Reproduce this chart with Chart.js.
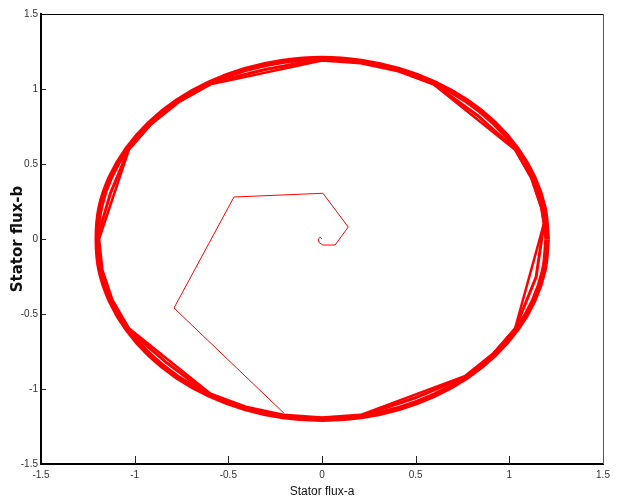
<!DOCTYPE html>
<html>
<head>
<meta charset="utf-8">
<script src="https://cdn.jsdelivr.net/npm/chart.js@4.4.1/dist/chart.umd.min.js"></script>
<style>
  html, body { margin: 0; padding: 0; background: #fff; }
  #wrap { width: 619px; height: 502px; }
</style>
</head>
<body>
<div id="wrap"><canvas id="fluxChart" width="619" height="502"></canvas></div>
<script>
    // tick labels
    const xTicks = [-1.5, -1, -0.5, 0, 0.5, 1, 1.5];
    const yTicks = [-1.5, -1, -0.5, 0, 0.5, 1, 1.5];

    // start-up transient
    const startX = [0.0, -0.01, -0.02, -0.015, 0.005, 0.07, 0.14, 0.005, -0.47, -0.79, -0.2];
    const startY = [0.0, 0.012, 0.0, -0.025, -0.04, -0.04, 0.08, 0.305, 0.28, -0.46, -1.165];

    // lap taking the straight chords (hexagon-ish sectors)
    const chordX = [-0.207, 0.0, 0.207, 0.765, 0.912, 1.031, 1.185, 1.172, 1.118, 1.031, 0.595, 0.407, 0.207, 0.0, -0.595, -0.765, -0.912, -1.031, -1.19, -1.172, -1.118, -1.031, -0.595, -0.407, -0.207];
    const chordY = [-1.172, -1.19, -1.172, -0.912, -0.765, -0.595, 0.104, 0.207, 0.407, 0.595, 1.031, 1.118, 1.172, 1.19, 1.031, 0.912, 0.765, 0.595, 0.0, -0.207, -0.407, -0.595, -1.031, -1.118, -1.172];

    // lap sagging half way between chord and arc
    const sagX = [-0.207, 0.0, 0.208, 0.495, 0.77, 0.912, 1.031, 1.143, 1.185, 1.172, 1.118, 1.031, 0.827, 0.595, 0.407, 0.207, 0.0, -0.303, -0.595, -0.765, -0.912, -1.031, -1.13, -1.2, -1.18, -1.127, -1.039, -0.827, -0.6, -0.41, -0.207];
    const sagY = [-1.18, -1.2, -1.18, -1.06, -0.918, -0.77, -0.6, -0.253, 0.104, 0.207, 0.407, 0.6, 0.827, 1.035, 1.125, 1.18, 1.2, 1.13, 1.04, 0.917, 0.77, 0.6, 0.303, 0.0, -0.208, -0.41, -0.6, -0.827, -1.039, -1.128, -1.18];

    // outer laps following the circle
    const arcX = [1.208, 1.19, 1.135, 1.046, 0.925, 0.777, 0.604, 0.413, 0.21, 0.0, -0.21, -0.413, -0.604, -0.777, -0.925, -1.046, -1.135, -1.19, -1.205, -1.19, -1.135, -1.046, -0.925, -0.777, -0.604, -0.413, -0.21, 0.0, 0.21, 0.413, 0.604, 0.777, 0.925, 1.046, 1.135, 1.19, 1.208];
    const arcY = [0.0, 0.21, 0.413, 0.604, 0.777, 0.925, 1.046, 1.135, 1.19, 1.21, 1.19, 1.135, 1.046, 0.925, 0.777, 0.604, 0.413, 0.21, 0.0, -0.21, -0.413, -0.604, -0.777, -0.925, -1.046, -1.135, -1.19, -1.208, -1.19, -1.135, -1.046, -0.925, -0.777, -0.604, -0.413, -0.21, 0.0];

    const arc2X = [1.196, 1.178, 1.124, 1.036, 0.916, 0.769, 0.598, 0.409, 0.208, 0.0, -0.208, -0.409, -0.598, -0.769, -0.916, -1.036, -1.124, -1.178, -1.195, -1.178, -1.124, -1.036, -0.916, -0.769, -0.598, -0.409, -0.208, 0.0, 0.208, 0.409, 0.598, 0.769, 0.916, 1.036, 1.124, 1.178, 1.196];
    const arc2Y = [0.0, 0.208, 0.409, 0.598, 0.769, 0.916, 1.036, 1.124, 1.178, 1.198, 1.178, 1.124, 1.036, 0.916, 0.769, 0.598, 0.409, 0.208, 0.0, -0.208, -0.409, -0.598, -0.769, -0.916, -1.036, -1.124, -1.178, -1.196, -1.178, -1.124, -1.036, -0.916, -0.769, -0.598, -0.409, -0.208, 0.0];

    function toPoints(xs, ys) {
        return xs.map((x, i) => ({ x: x, y: ys[i] }));
    }

    function lap(xs, ys, width, tension) {
        return {
            data: toPoints(xs, ys),
            showLine: true,
            borderColor: '#ff0000',
            borderWidth: width,
            pointRadius: 0,
            tension: tension,
            borderJoinStyle: 'round'
        };
    }

    // inward tick marks and the top/right box lines
    const boxTicks = {
        id: 'boxTicks',
        afterDraw(chart) {
            const { ctx, chartArea: a, scales: { x, y } } = chart;
            ctx.save();
            ctx.strokeStyle = '#000';
            ctx.lineWidth = 1;
            ctx.beginPath();
            ctx.moveTo(a.left, a.top + 0.5);
            ctx.lineTo(a.right, a.top + 0.5);
            ctx.stroke();
            ctx.strokeStyle = '#555';
            ctx.beginPath();
            ctx.moveTo(a.right + 0.5, a.top);
            ctx.lineTo(a.right + 0.5, a.bottom);
            ctx.stroke();
            ctx.strokeStyle = '#222';
            x.ticks.forEach(t => {
                if (t.value <= x.min || t.value >= x.max) return;
                const px = Math.round(x.getPixelForValue(t.value)) + 0.5;
                ctx.beginPath();
                ctx.moveTo(px, a.bottom);
                ctx.lineTo(px, a.bottom - 8);
                ctx.stroke();
            });
            y.ticks.forEach(t => {
                if (t.value <= y.min || t.value >= y.max) return;
                const py = Math.round(y.getPixelForValue(t.value)) + 0.5;
                ctx.beginPath();
                ctx.moveTo(a.left, py);
                ctx.lineTo(a.left + 5, py);
                ctx.stroke();
            });
            ctx.restore();
        }
    };

    const tickFont = { family: "'Liberation Sans', Arial, sans-serif", size: 10 };

    new Chart(document.getElementById('fluxChart').getContext('2d'), {
        type: 'scatter',
        data: {
            datasets: [
                lap(arcX, arcY, 3.5, 0.4),
                lap(arc2X, arc2Y, 3.5, 0.4),
                lap(sagX, sagY, 3, 0),
                lap(chordX, chordY, 2.5, 0),
                lap(startX, startY, 1, 0)
            ]
        },
        options: {
            responsive: false,
            animation: false,
            devicePixelRatio: 1,
            layout: { padding: { left: 0, right: 16, top: 14, bottom: 0 } },
            plugins: {
                legend: { display: false },
                tooltip: { enabled: false }
            },
            scales: {
                x: {
                    type: 'linear',
                    min: xTicks[0],
                    max: xTicks[xTicks.length - 1],
                    afterBuildTicks: scale => { scale.ticks = xTicks.map(v => ({ value: v })); },
                    afterFit: scale => { scale.height = 38; },
                    grid: { display: false, drawTicks: false },
                    border: { display: true, color: '#000', width: 2 },
                    ticks: { autoSkip: false, maxRotation: 0, padding: 5, color: '#333', font: tickFont, callback: v => String(v) },
                    title: {
                        display: true,
                        text: 'Stator flux-a',
                        color: '#111',
                        padding: { top: 0, bottom: 3 },
                        font: { family: "'Liberation Sans', Arial, sans-serif", size: 12 }
                    }
                },
                y: {
                    type: 'linear',
                    min: yTicks[0],
                    max: yTicks[yTicks.length - 1],
                    afterBuildTicks: scale => { scale.ticks = yTicks.map(v => ({ value: v })); },
                    afterFit: scale => { scale.width = 41; },
                    grid: { display: false, drawTicks: false },
                    border: { display: true, color: '#000', width: 2 },
                    ticks: { autoSkip: false, padding: 3, color: '#333', font: tickFont, callback: v => String(v) },
                    title: {
                        display: true,
                        text: 'Stator flux-b',
                        color: '#111',
                        padding: { top: 9, bottom: 0 },
                        font: { family: "'DejaVu Sans', sans-serif", size: 15, weight: 'bold' }
                    }
                }
            }
        },
        plugins: [boxTicks]
    });
</script>
</body>
</html>
